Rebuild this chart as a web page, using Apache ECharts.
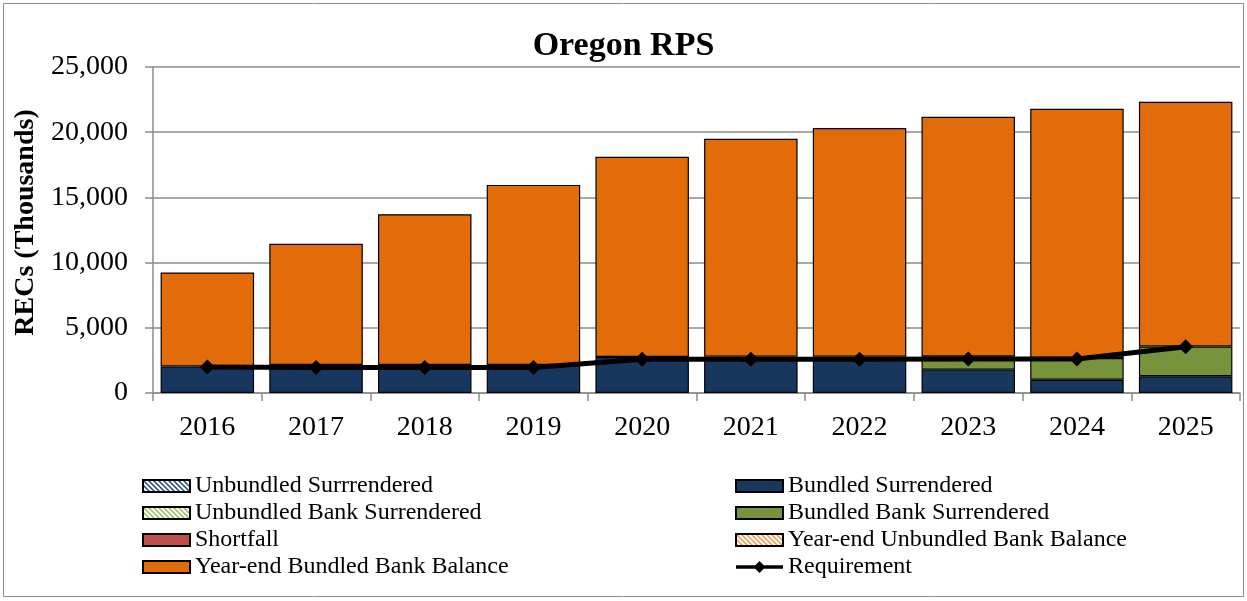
<!DOCTYPE html>
<html>
<head>
<meta charset="utf-8">
<script src="https://cdn.jsdelivr.net/npm/echarts@6/dist/echarts.min.js"></script>
<style>
html,body{margin:0;padding:0;background:#fff;}
#chart{width:1247px;height:601px;}
</style>
</head>
<body>
<div id="chart"></div>
<script>
const years = ['2016','2017','2018','2019','2020','2021','2022','2023','2024','2025'];
const unbundledSurrendered   = [0,0,0,0,0,0,0,0,0,0];
const bundledSurrendered     = [2040,2150,2150,2150,2760,2790,2790,1790,1020,1280];
const unbundledBankSurrendered = [0,0,0,0,0,0,0,0,0,0];
const bundledBankSurrendered = [0,0,0,0,0,0,0,1020,1660,2290];
const shortfall              = [0,0,0,0,0,0,0,0,0,0];
const yearEndUnbundledBank   = [0,0,0,0,0,0,0,0,0,0];
const yearEndBundledBank     = [7200,9290,11560,13810,15360,16710,17530,18380,19120,18770];
const requirement            = [1990,1960,1960,1960,2580,2580,2580,2600,2600,3550];
const yTicks = [0,5000,10000,15000,20000,25000];

function hatch(color){
  const c = document.createElement('canvas');
  c.width = 5; c.height = 5;
  const g = c.getContext('2d');
  g.fillStyle = '#ffffff'; g.fillRect(0,0,5,5);
  g.strokeStyle = color; g.lineWidth = 1.5;
  g.beginPath();
  g.moveTo(0,0); g.lineTo(5,5);
  g.moveTo(-2.5,2.5); g.lineTo(2.5,7.5);
  g.moveTo(2.5,-2.5); g.lineTo(7.5,2.5);
  g.stroke();
  return {image:c, repeat:'repeat'};
}
const nz = a => a.map(v => v === 0 ? '-' : v);
const font = 'Liberation Serif';

function bar(name, data, color){
  return {name, type:'bar', stack:'s', data:nz(data), barCategoryGap:'14%',
    itemStyle:{color, borderColor:'#000', borderWidth:1.2}, emphasis:{disabled:true}};
}
const legendText = {fontFamily:font, fontSize:24, color:'#000', lineHeight:24};
const reqIcon = 'path://M0 4.2 L47 4.2 L47 7.8 L0 7.8 Z M23.5 0 L29.5 6 L23.5 12 L17.5 6 Z';
const li = n => ({name:n, icon:'rect'});

const chart = echarts.init(document.getElementById('chart'));
chart.setOption({
  animation:false,
  backgroundColor:'#fff',
  title:{text:'Oregon RPS', left:'center', top:24,
    textStyle:{fontFamily:font, fontSize:34, fontWeight:'bold', color:'#000'}},
  graphic:[{type:'rect', shape:{x:3.5,y:3.5,width:1240,height:593},
    style:{fill:'none', stroke:'#8c8c8c', lineWidth:1}, silent:true}],
  grid:{left:153, right:7, top:67, bottom:208, containLabel:false},
  legend:[
    {orient:'vertical', left:142, top:474, padding:0, itemWidth:47, itemHeight:12, itemGap:3,
     textStyle:legendText,
     data:[li('Unbundled Surrrendered'),li('Unbundled Bank Surrendered'),li('Shortfall'),li('Year-end Bundled Bank Balance')]},
    {orient:'vertical', left:735, top:474, padding:0, itemWidth:47, itemHeight:12, itemGap:3,
     textStyle:legendText,
     data:[li('Bundled Surrendered'),li('Bundled Bank Surrendered'),li('Year-end Unbundled Bank Balance'),
       {name:'Requirement', icon:reqIcon, itemStyle:{color:'#000', borderWidth:0}}]}
  ],
  xAxis:{type:'category', data:years,
    axisLine:{lineStyle:{color:'#8c8c8c', width:1.5}},
    axisTick:{show:true, length:8, lineStyle:{color:'#8c8c8c', width:1.5}},
    axisLabel:{fontFamily:font, fontSize:28, color:'#000', margin:21}},
  yAxis:{type:'value', min:yTicks[0], max:yTicks[yTicks.length-1], interval:5000,
    name:'RECs (Thousands)', nameLocation:'middle', nameGap:110, nameRotate:90,
    nameTextStyle:{fontFamily:font, fontSize:28, fontWeight:'bold', color:'#000', padding:[0,0,0,15]},
    axisLine:{show:true, lineStyle:{color:'#8c8c8c', width:1.5}},
    axisTick:{show:true, length:8, lineStyle:{color:'#8c8c8c', width:1.5}},
    splitLine:{lineStyle:{color:'#8c8c8c', width:1.5}},
    axisLabel:{fontFamily:font, fontSize:28, color:'#000', margin:25,
      formatter:v => v.toLocaleString('en-US')}},
  series:[
    bar('Unbundled Surrrendered', unbundledSurrendered, hatch('#1F497D')),
    bar('Bundled Surrendered', bundledSurrendered, '#17375E'),
    bar('Unbundled Bank Surrendered', unbundledBankSurrendered, hatch('#9BBB59')),
    bar('Bundled Bank Surrendered', bundledBankSurrendered, '#77933C'),
    bar('Shortfall', shortfall, '#C0504D'),
    bar('Year-end Unbundled Bank Balance', yearEndUnbundledBank, hatch('#F79646')),
    bar('Year-end Bundled Bank Balance', yearEndBundledBank, '#E36C0A'),
    {name:'Requirement', type:'line', data:requirement, z:10,
     symbol:'diamond', symbolSize:15,
     lineStyle:{color:'#000', width:5}, itemStyle:{color:'#000'},
     emphasis:{disabled:true}}
  ]
});
</script>
</body>
</html>
